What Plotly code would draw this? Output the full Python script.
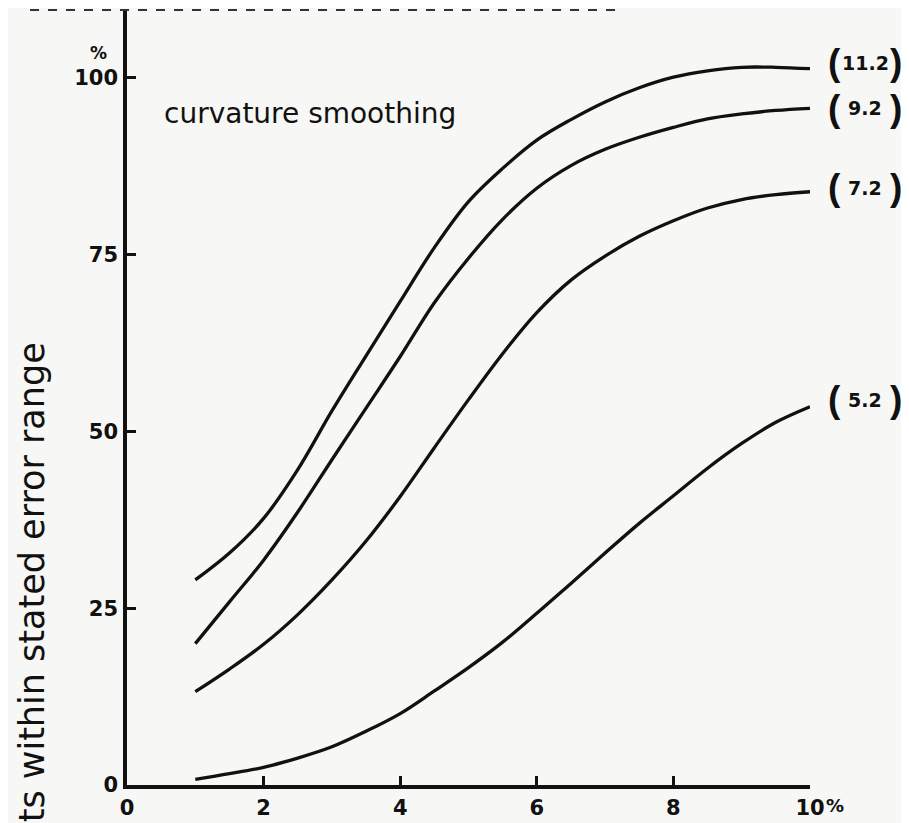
import plotly.graph_objects as go

# ---- data ----
x_vals = [1, 1.5, 2, 2.5, 3, 3.5, 4, 4.5, 5, 5.5, 6, 6.5, 7, 7.5, 8, 8.5, 9, 9.5, 10]
curve_11_2 = [29.0, 32.8, 37.7, 44.6, 52.9, 60.7, 68.4, 76.0, 82.5, 87.2, 91.2, 94.1, 96.6, 98.6, 100.1, 101.0, 101.5, 101.5, 101.3]
curve_9_2 = [20.0, 25.9, 31.8, 38.6, 46.0, 53.3, 60.6, 68.2, 74.5, 80.0, 84.4, 87.6, 89.9, 91.6, 93.0, 94.2, 94.9, 95.4, 95.7]
curve_7_2 = [13.2, 16.4, 19.9, 24.1, 29.0, 34.5, 40.8, 47.7, 54.5, 61.0, 66.8, 71.4, 74.8, 77.6, 79.8, 81.6, 82.8, 83.5, 83.9]
curve_5_2 = [0.8, 1.6, 2.5, 3.8, 5.4, 7.6, 10.1, 13.3, 16.6, 20.2, 24.3, 28.5, 32.8, 37.0, 40.9, 44.8, 48.3, 51.3, 53.5]
series = [("11.2", curve_11_2), ("9.2", curve_9_2), ("7.2", curve_7_2), ("5.2", curve_5_2)]

x_ticks = [0, 2, 4, 6, 8, 10]
x_ticktext = ["0", "2", "4", "6", "8", "10"]
y_ticks = [0, 25, 50, 75, 100]
y_ticktext = ["0", "25", "50", "75", "100"]

ink = "#111111"
bg = "#f7f7f5"
label_yshift = {"11.2": 6, "9.2": 0, "7.2": 4, "5.2": 7}  # styling: nudges of the end labels

fig = go.Figure()
for name, ys in series:
    fig.add_trace(go.Scatter(x=x_vals, y=ys, mode="lines", name=name,
                             line=dict(color=ink, width=3.3, shape="spline", smoothing=1.0),
                             hoverinfo="skip"))

# curve labels: tall parentheses around a bold number
for name, ys in series:
    common = dict(x=x_vals[-1], y=ys[-1], xref="x", yref="y", yanchor="middle",
                  xanchor="center", showarrow=False, yshift=label_yshift[name])
    fig.add_annotation(text="<b>(</b>", xshift=24,
                       font=dict(family="Liberation Sans", size=37, color=ink), **common)
    fig.add_annotation(text="<b>" + name + "</b>", xshift=55,
                       font=dict(family="DejaVu Sans", size=19, color=ink), **common)
    fig.add_annotation(text="<b>)</b>", xshift=86,
                       font=dict(family="Liberation Sans", size=37, color=ink), **common)

fig.add_annotation(x=0.51, y=95.0, xref="x", yref="y", xanchor="left", yanchor="middle",
                   showarrow=False, text="curvature smoothing",
                   font=dict(family="DejaVu Sans", size=28, color=ink))

fig.add_annotation(x=0, y=100, xref="x", yref="y", xanchor="center", yanchor="middle",
                   xshift=-29, yshift=25, showarrow=False, text="<b>%</b>",
                   font=dict(family="DejaVu Sans", size=17, color=ink))

fig.add_annotation(x=10, y=0, xref="x", yref="y", xanchor="left", yanchor="middle",
                   xshift=14, yshift=-20, showarrow=False, text="<b>%</b>",
                   font=dict(family="DejaVu Sans", size=18, color=ink))

fig.add_annotation(x=-0.139, y=62.9, xref="paper", yref="y", xanchor="center", yanchor="top",
                   textangle=-90, showarrow=False, text="ts within stated error range",
                   font=dict(family="DejaVu Sans", size=35, color=ink))

# broken frame remnant at the top of the scan
fig.add_shape(type="line", xref="paper", yref="paper", x0=-0.142, x1=0.72, y0=1, y1=1,
              line=dict(color="#333333", width=2, dash="dash"))

axis_common = dict(showline=True, linewidth=3.5, linecolor=ink, ticks="inside",
                   ticklen=9, tickwidth=3, tickcolor=ink, showgrid=False, zeroline=False,
                   tickfont=dict(family="DejaVu Sans", size=21, color=ink, weight="bold"))

fig.update_xaxes(range=[0, 10], tickvals=x_ticks, ticktext=x_ticktext,
                 ticklabelstandoff=1, **axis_common)
fig.update_yaxes(range=[0, 109.6], tickvals=y_ticks, ticktext=y_ticktext,
                 ticklabelstandoff=1, **axis_common)

# the html page adds an 8px body margin; compensate so the plot lands where the scan has it
fig.update_layout(width=901, height=815, margin=dict(l=119, r=99, t=2, b=38),
                  paper_bgcolor=bg, plot_bgcolor=bg, showlegend=False)

fig.write_html("out.html")
